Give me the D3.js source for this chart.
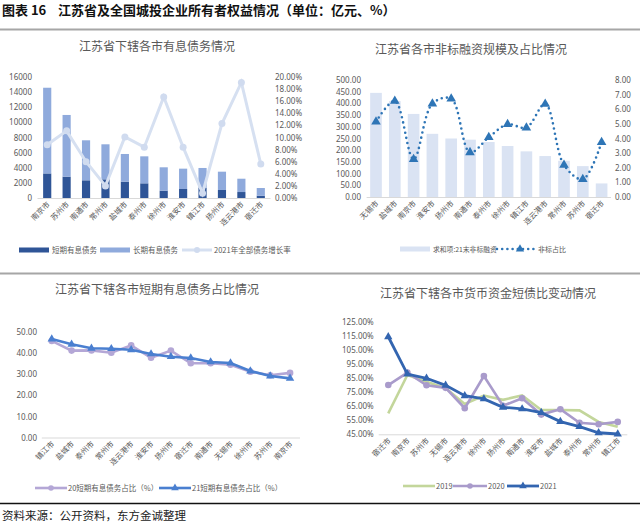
<!DOCTYPE html>
<html><head><meta charset="utf-8">
<script src="https://cdn.jsdelivr.net/npm/d3@7"></script>
<style>
html,body{margin:0;padding:0;background:#fff;}
svg{display:block;font-family:"Noto Sans CJK SC","Noto Sans",sans-serif;}
</style></head>
<body><svg id="c" width="640" height="528"></svg>
<script>
// ---------- data ----------
const p1Cities = ["南京市","苏州市","南通市","常州市","盐城市","泰州市","徐州市","淮安市","镇江市","扬州市","连云港市","宿迁市"];
const p1Short  = [3250, 2820, 2340, 2470, 2160, 1940, 970, 1190, 1360, 1060, 790, 300];
const p1Long   = [11330, 8160, 5290, 4630, 3660, 3570, 3090, 2690, 2610, 2420, 1760, 1020];
const p1Growth = [8.8, 11.1, 6.0, 2.0, 10.1, 8.4, 16.7, 8.4, 0.8, 12.3, 19.1, 5.6];
const p1LeftTicks = [0,2000,4000,6000,8000,10000,12000,14000,16000];
const p1RightTicks = [0,2,4,6,8,10,12,14,16,18,20];

const p2Cities = ["无锡市","盐城市","南京市","淮安市","扬州市","南通市","泰州市","徐州市","镇江市","连云港市","常州市","苏州市","宿迁市"];
const p2Amount = [445, 410, 355, 270, 250, 245, 235, 218, 195, 175, 155, 132, 58];
const p2Ratio  = [5.15, 6.56, 2.58, 6.38, 6.72, 3.05, 4.08, 4.97, 4.74, 6.36, 2.19, 1.21, 3.74];
const p2LeftTicks = [0,50,100,150,200,250,300,350,400,450,500];
const p2RightTicks = [0,1,2,3,4,5,6,7,8];

const p3Cities = ["镇江市","盐城市","泰州市","常州市","连云港市","淮安市","扬州市","宿迁市","南通市","无锡市","徐州市","苏州市","南京市"];
const p3Y2020 = [45.9, 41.3, 41.4, 40.3, 43.8, 37.9, 41.3, 35.3, 35.3, 34.6, 31.3, 29.6, 30.7];
const p3Y2021 = [46.8, 44.3, 42.4, 42.2, 41.7, 39.7, 38.4, 37.8, 35.9, 35.4, 31.6, 29.2, 28.1];
const p3Ticks = [0,10,20,30,40,50];

const p4Cities = ["宿迁市","南京市","苏州市","无锡市","连云港市","徐州市","扬州市","南通市","淮安市","盐城市","泰州市","常州市","镇江市"];
const p4Y2019 = [59.9, 87.1, 82.4, 77.7, 66.5, 72.5, 69.5, 72.6, 62.3, 62.3, 62.0, 53.8, 50.3];
const p4Y2020 = [80.0, 88.8, 79.8, 78.0, 63.5, 86.4, 65.3, 70.6, 59.0, 62.8, 53.2, 52.1, 53.8];
const p4Y2021 = [114.3, 87.8, 84.8, 79.8, 72.4, 70.1, 64.2, 63.0, 60.4, 54.0, 50.4, 46.1, 45.2];
const p4Ticks = [45,55,65,75,85,95,105,115,125];

// ---------- setup ----------
const svg = d3.select("#c");
const TXT = "#595959", AX = "#d9d9d9";
const LF = 7.5;

svg.append("text").attr("x",2).attr("y",15).attr("font-size",13).attr("font-weight","bold").attr("fill","#111").text("图表 16");
svg.append("text").attr("x",58).attr("y",15).attr("font-size",13).attr("font-weight","bold").attr("fill","#111").text("江苏省及全国城投企业所有者权益情况（单位：亿元、%）");
svg.append("line").attr("x1",0).attr("x2",640).attr("y1",29.5).attr("y2",29.5).attr("stroke","#a6a6a6").attr("stroke-width",2);
svg.append("line").attr("x1",0).attr("x2",640).attr("y1",273.5).attr("y2",273.5).attr("stroke","#a6a6a6").attr("stroke-width",2);
svg.append("line").attr("x1",0).attr("x2",640).attr("y1",503.5).attr("y2",503.5).attr("stroke","#111").attr("stroke-width",1.5);
svg.append("text").attr("x",2).attr("y",520).attr("font-size",11.5).attr("fill","#222").text("资料来源：公开资料，东方金诚整理");

function title(t, cx, y){
  svg.append("text").attr("x",cx).attr("y",y).attr("text-anchor","middle").attr("font-size",12).attr("fill",TXT).text(t);
}
function yAxis(scale, ticks, fmt, x, side){
  const ax = (side==="left"?d3.axisLeft(scale):d3.axisRight(scale)).tickValues(ticks).tickSize(0).tickPadding(5).tickFormat(fmt);
  const g = svg.append("g").attr("transform",`translate(${x},0)`).call(ax);
  g.select(".domain").remove();
  g.selectAll("text").attr("fill",TXT).attr("font-size",8).attr("font-family","'Noto Sans','DejaVu Sans',sans-serif");
}
function xAxis(scale, y, x0, x1){
  svg.append("line").attr("x1",x0).attr("x2",x1).attr("y1",y+0.5).attr("y2",y+0.5).attr("stroke",AX).attr("stroke-width",1);
  const g = svg.append("g");
  g.selectAll("text").data(scale.domain()).join("text")
    .attr("transform",d=>`translate(${scale(d)+3},${y+7}) rotate(-45)`)
    .attr("text-anchor","end").attr("font-size",7.5).attr("fill",TXT).text(d=>d);
}
function legText(x,y,t,fs){
  svg.append("text").attr("x",x).attr("y",y).attr("font-size",fs||LF).attr("fill",TXT).text(t);
}
const tri = d3.symbol(d3.symbolTriangle);

// ---------- panel 1 ----------
title("江苏省下辖各市有息债务情况", 157, 51);
const x1 = d3.scalePoint().domain(p1Cities).range([37.5,270.5]).padding(0.5);
const y1 = d3.scaleLinear().domain([0,16000]).range([198,77]);
const y1r = d3.scaleLinear().domain([0,20]).range([198,77]);
yAxis(y1, p1LeftTicks, d=>d, 37, "left");
yAxis(y1r, p1RightTicks, d=>d.toFixed(2)+"%", 270, "right");
xAxis(x1, 198, 37.5, 270.5);
const bw1 = x1.step()*0.42;
svg.append("g").selectAll("rect").data(p1Cities).join("rect")
  .attr("x",d=>x1(d)-bw1/2).attr("width",bw1)
  .attr("y",(d,i)=>y1(p1Short[i])).attr("height",(d,i)=>y1(0)-y1(p1Short[i])).attr("fill","#2f5597");
svg.append("g").selectAll("rect").data(p1Cities).join("rect")
  .attr("x",d=>x1(d)-bw1/2).attr("width",bw1)
  .attr("y",(d,i)=>y1(p1Short[i]+p1Long[i])).attr("height",(d,i)=>y1(p1Short[i])-y1(p1Short[i]+p1Long[i])).attr("fill","#8faadc");
svg.append("path").datum(p1Growth).attr("fill","none").attr("stroke","#d6e0f1").attr("stroke-width",3)
  .attr("d",d3.line().x((d,i)=>x1(p1Cities[i])).y(d=>y1r(d)));
svg.append("g").selectAll("circle").data(p1Growth).join("circle")
  .attr("cx",(d,i)=>x1(p1Cities[i])).attr("cy",d=>y1r(d)).attr("r",3.5).attr("fill","#d0dbef");
// legend 1
svg.append("rect").attr("x",19).attr("y",247.5).attr("width",30).attr("height",5).attr("fill","#2f5597");
legText(52,253,"短期有息债务");
svg.append("rect").attr("x",100).attr("y",247.5).attr("width",30).attr("height",5).attr("fill","#8faadc");
legText(133,253,"长期有息债务");
svg.append("line").attr("x1",182).attr("x2",212).attr("y1",250).attr("y2",250).attr("stroke","#d6e0f1").attr("stroke-width",3);
svg.append("circle").attr("cx",197).attr("cy",250).attr("r",3).attr("fill","#d0dbef");
legText(214,253,"2021年全部债务增长率");

// ---------- panel 2 ----------
title("江苏省各市非标融资规模及占比情况", 471, 54);
const x2 = d3.scalePoint().domain(p2Cities).range([366.6,611]).padding(0.5);
const y2 = d3.scaleLinear().domain([0,500]).range([197,80]);
const y2r = d3.scaleLinear().domain([0,8]).range([197,80]);
yAxis(y2, p2LeftTicks, d=>d.toFixed(2), 366, "left");
yAxis(y2r, p2RightTicks, d=>d.toFixed(2), 610, "right");
xAxis(x2, 197, 366.6, 611);
const bw2 = x2.step()*0.62;
svg.append("g").selectAll("rect").data(p2Cities).join("rect")
  .attr("x",d=>x2(d)-bw2/2).attr("width",bw2)
  .attr("y",(d,i)=>y2(p2Amount[i])).attr("height",(d,i)=>y2(0)-y2(p2Amount[i])).attr("fill","#dae3f3");
svg.append("path").datum(p2Ratio).attr("fill","none").attr("stroke","#2e75b6").attr("stroke-width",2.6)
  .attr("stroke-linecap","round").attr("stroke-dasharray","0,5.2")
  .attr("d",d3.line().curve(d3.curveCatmullRom.alpha(0.5)).x((d,i)=>x2(p2Cities[i])).y(d=>y2r(d)));
svg.append("g").selectAll("path").data(p2Ratio).join("path")
  .attr("transform",(d,i)=>`translate(${x2(p2Cities[i])},${y2r(d)})`).attr("d",tri.size(40)()).attr("fill","#2e75b6");
// legend 2
svg.append("rect").attr("x",400).attr("y",246.5).attr("width",30).attr("height",5).attr("fill","#dae3f3");
legText(433,252,"求和项:21末非标融资",6.8);
svg.append("line").attr("x1",497).attr("x2",534).attr("y1",249).attr("y2",249).attr("stroke","#2e75b6").attr("stroke-width",2.6)
  .attr("stroke-linecap","round").attr("stroke-dasharray","0,5.2");
svg.append("path").attr("transform","translate(520,249)").attr("d",tri.size(30)()).attr("fill","#2e75b6");
legText(538,252,"非标占比",7);

// ---------- panel 3 ----------
title("江苏省下辖各市短期有息债务占比情况", 157, 294);
const x3 = d3.scalePoint().domain(p3Cities).range([41.8,300]).padding(0.5);
const y3 = d3.scaleLinear().domain([0,50]).range([437.5,332.3]);
yAxis(y3, p3Ticks, d=>d.toFixed(2), 42, "left");
xAxis(x3, 437.5, 41.8, 300);
const c20 = "#b4a7d6", c21 = "#4a7fd0";
svg.append("path").datum(p3Y2020).attr("fill","none").attr("stroke",c20).attr("stroke-width",2.6)
  .attr("d",d3.line().x((d,i)=>x3(p3Cities[i])).y(d=>y3(d)));
svg.append("g").selectAll("circle").data(p3Y2020).join("circle")
  .attr("cx",(d,i)=>x3(p3Cities[i])).attr("cy",d=>y3(d)).attr("r",3.3).attr("fill",c20);
svg.append("path").datum(p3Y2021).attr("fill","none").attr("stroke",c21).attr("stroke-width",2.6)
  .attr("d",d3.line().x((d,i)=>x3(p3Cities[i])).y(d=>y3(d)));
svg.append("g").selectAll("path").data(p3Y2021).join("path")
  .attr("transform",(d,i)=>`translate(${x3(p3Cities[i])},${y3(d)})`).attr("d",tri.size(30)()).attr("fill",c21);
// legend 3
svg.append("line").attr("x1",35).attr("x2",67).attr("y1",488).attr("y2",488).attr("stroke",c20).attr("stroke-width",2.6);
svg.append("circle").attr("cx",51).attr("cy",488).attr("r",2.8).attr("fill",c20);
legText(68,491,"20短期有息债务占比（%）");
svg.append("line").attr("x1",159).attr("x2",191).attr("y1",488).attr("y2",488).attr("stroke",c21).attr("stroke-width",2.6);
svg.append("path").attr("transform","translate(175,488)").attr("d",tri.size(25)()).attr("fill",c21);
legText(192,491,"21短期有息债务占比（%）");

// ---------- panel 4 ----------
title("江苏省下辖各市货币资金短债比变动情况", 488, 298);
const x4 = d3.scalePoint().domain(p4Cities).range([378.7,627.3]).padding(0.5);
const y4 = d3.scaleLinear().domain([45,125]).range([434.3,321.7]);
yAxis(y4, p4Ticks, d=>d.toFixed(2)+"%", 378.7, "left");
xAxis(x4, 434.3, 378.7, 627.3);
const g19 = "#c3d69b", g20 = "#a99bcb", g21 = "#3365b0";
svg.append("path").datum(p4Y2019).attr("fill","none").attr("stroke",g19).attr("stroke-width",2.6)
  .attr("d",d3.line().x((d,i)=>x4(p4Cities[i])).y(d=>y4(d)));
svg.append("path").datum(p4Y2020).attr("fill","none").attr("stroke",g20).attr("stroke-width",2.6)
  .attr("d",d3.line().x((d,i)=>x4(p4Cities[i])).y(d=>y4(d)));
svg.append("g").selectAll("circle").data(p4Y2020).join("circle")
  .attr("cx",(d,i)=>x4(p4Cities[i])).attr("cy",d=>y4(d)).attr("r",3.3).attr("fill",g20);
svg.append("path").datum(p4Y2021).attr("fill","none").attr("stroke",g21).attr("stroke-width",2.8)
  .attr("d",d3.line().x((d,i)=>x4(p4Cities[i])).y(d=>y4(d)));
svg.append("g").selectAll("path").data(p4Y2021).join("path")
  .attr("transform",(d,i)=>`translate(${x4(p4Cities[i])},${y4(d)})`).attr("d",tri.size(30)()).attr("fill",g21);
// legend 4
svg.append("line").attr("x1",403).attr("x2",435).attr("y1",486).attr("y2",486).attr("stroke",g19).attr("stroke-width",2.6);
legText(436,489,"2019");
svg.append("line").attr("x1",453).attr("x2",487).attr("y1",486).attr("y2",486).attr("stroke",g20).attr("stroke-width",2.6);
svg.append("circle").attr("cx",470).attr("cy",486).attr("r",2.8).attr("fill",g20);
legText(488,489,"2020");
svg.append("line").attr("x1",507).attr("x2",539).attr("y1",486).attr("y2",486).attr("stroke",g21).attr("stroke-width",2.8);
svg.append("path").attr("transform","translate(523,486)").attr("d",tri.size(25)()).attr("fill",g21);
legText(540,489,"2021");
</script></body></html>
